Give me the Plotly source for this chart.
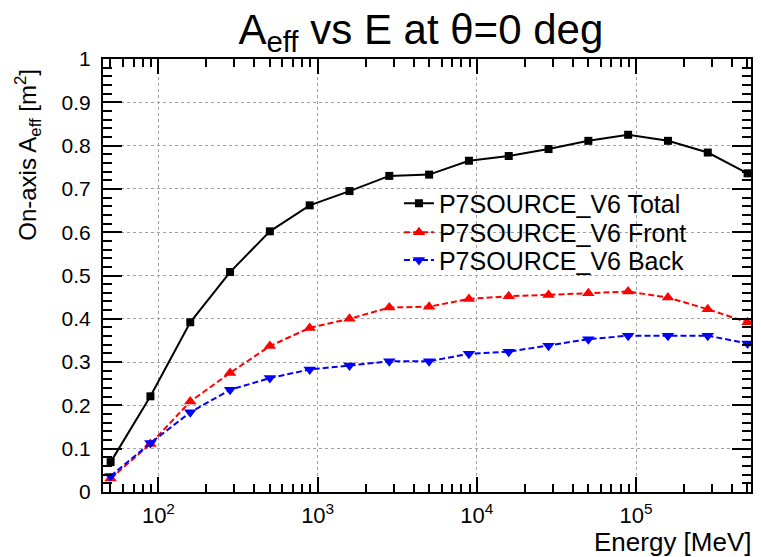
import plotly.graph_objects as go

# Energy bin centres (MeV), log-spaced by a quarter decade
energy_mev = [50.1, 89.1, 158.5, 281.8, 501.2, 891.3, 1585, 2818, 5012, 8913,
              15849, 28184, 50119, 89125, 158489, 281838, 501187]

# On-axis effective area (m^2) for each event class
aeff_total = [0.069, 0.221, 0.392, 0.508, 0.602, 0.662, 0.695, 0.730, 0.733,
              0.765, 0.776, 0.792, 0.811, 0.825, 0.811, 0.784, 0.736]
aeff_front = [0.031, 0.111, 0.209, 0.275, 0.337, 0.379, 0.400, 0.426, 0.428,
              0.446, 0.452, 0.455, 0.459, 0.463, 0.449, 0.422, 0.392]
aeff_back = [0.037, 0.113, 0.184, 0.236, 0.263, 0.283, 0.292, 0.302, 0.302,
             0.319, 0.324, 0.338, 0.353, 0.361, 0.361, 0.361, 0.343]

series_names = ["P7SOURCE_V6 Total", "P7SOURCE_V6 Front", "P7SOURCE_V6 Back"]

x_major = [1e2, 1e3, 1e4, 1e5]
x_major_text = ["10<sup>2</sup>", "10<sup>3</sup>", "10<sup>4</sup>", "10<sup>5</sup>"]
x_minor = [m * 10 ** d for d in range(1, 6) for m in range(2, 10)]

FONT = "Liberation Sans, Arial, sans-serif"

fig = go.Figure()
fig.add_trace(go.Scatter(
    x=energy_mev, y=aeff_total, name=series_names[0], mode="lines+markers",
    line=dict(color="black", width=2),
    marker=dict(symbol="square", size=8, color="black"),
    legend="legend",
))
fig.add_trace(go.Scatter(
    x=energy_mev, y=aeff_front, name=series_names[1], mode="lines+markers",
    line=dict(color="#ff0000", width=2, dash="6px,3px"),
    marker=dict(symbol="triangle-up", size=11, color="#ff0000"),
    legend="legend2",
))
fig.add_trace(go.Scatter(
    x=energy_mev, y=aeff_back, name=series_names[2], mode="lines+markers",
    line=dict(color="#0000ff", width=2, dash="6px,3px"),
    marker=dict(symbol="triangle-down", size=11, color="#0000ff"),
    legend="legend3",
))

# One legend box per row so the rows sit tightly stacked
legend_style = dict(
    xref="paper", yref="paper", xanchor="left", yanchor="middle",
    bgcolor="rgba(0,0,0,0)", borderwidth=0,
    font=dict(family=FONT, size=25, color="black"),
)

fig.update_layout(
    width=761, height=557,
    margin=dict(l=103, r=8, t=59, b=65),
    paper_bgcolor="white", plot_bgcolor="white",
    font=dict(family=FONT, color="black", size=20),
    title=dict(
        text="A<sub>eff</sub> vs E at θ=0 deg",
        font=dict(family=FONT, size=42, color="black"),
        x=0.553, xref="container", xanchor="center",
        y=0.948, yref="container", yanchor="middle",
    ),
    showlegend=True,
    legend=dict(x=0.4567, y=0.6665, **legend_style),
    legend2=dict(x=0.4567, y=0.5995, **legend_style),
    legend3=dict(x=0.4567, y=0.535, **legend_style),
    xaxis=dict(
        type="log", range=[1.652, 5.7215],
        tickvals=x_major, ticktext=x_major_text,
        ticks="inside", ticklen=15, tickwidth=1.5, tickcolor="black",
        showline=True, linecolor="black", linewidth=2, mirror="ticks",
        showgrid=True, gridcolor="#a0a0a0", gridwidth=1, griddash="3px,3px",
        zeroline=False, ticklabelstandoff=3,
        tickfont=dict(family=FONT, size=22, color="black"),
        minor=dict(tickvals=x_minor, ticks="inside", ticklen=8,
                   tickwidth=1.5, tickcolor="black", showgrid=False),
    ),
    yaxis=dict(
        range=[0, 1], dtick=0.1, tick0=0,
        ticks="inside", ticklen=19, tickwidth=1.5, tickcolor="black",
        showline=True, linecolor="black", linewidth=2, mirror="ticks",
        showgrid=True, gridcolor="#a0a0a0", gridwidth=1, griddash="3px,3px",
        zeroline=False, ticklabelstandoff=6,
        tickfont=dict(family=FONT, size=21, color="black"),
        minor=dict(dtick=0.02, ticks="inside", ticklen=9,
                   tickwidth=1.5, tickcolor="black", showgrid=False),
    ),
    annotations=[
        dict(text="On-axis A<sub>eff</sub> [m<sup>2</sup>]",
             xref="paper", yref="paper", x=-0.115, y=0.78,
             xanchor="center", yanchor="middle", textangle=-90,
             showarrow=False, font=dict(family=FONT, size=24, color="black")),
        dict(text="Energy [MeV]",
             xref="paper", yref="paper", x=1.004, y=-0.116,
             xanchor="right", yanchor="middle",
             showarrow=False, font=dict(family=FONT, size=26, color="black")),
    ],
)

fig.write_html("out.html")
